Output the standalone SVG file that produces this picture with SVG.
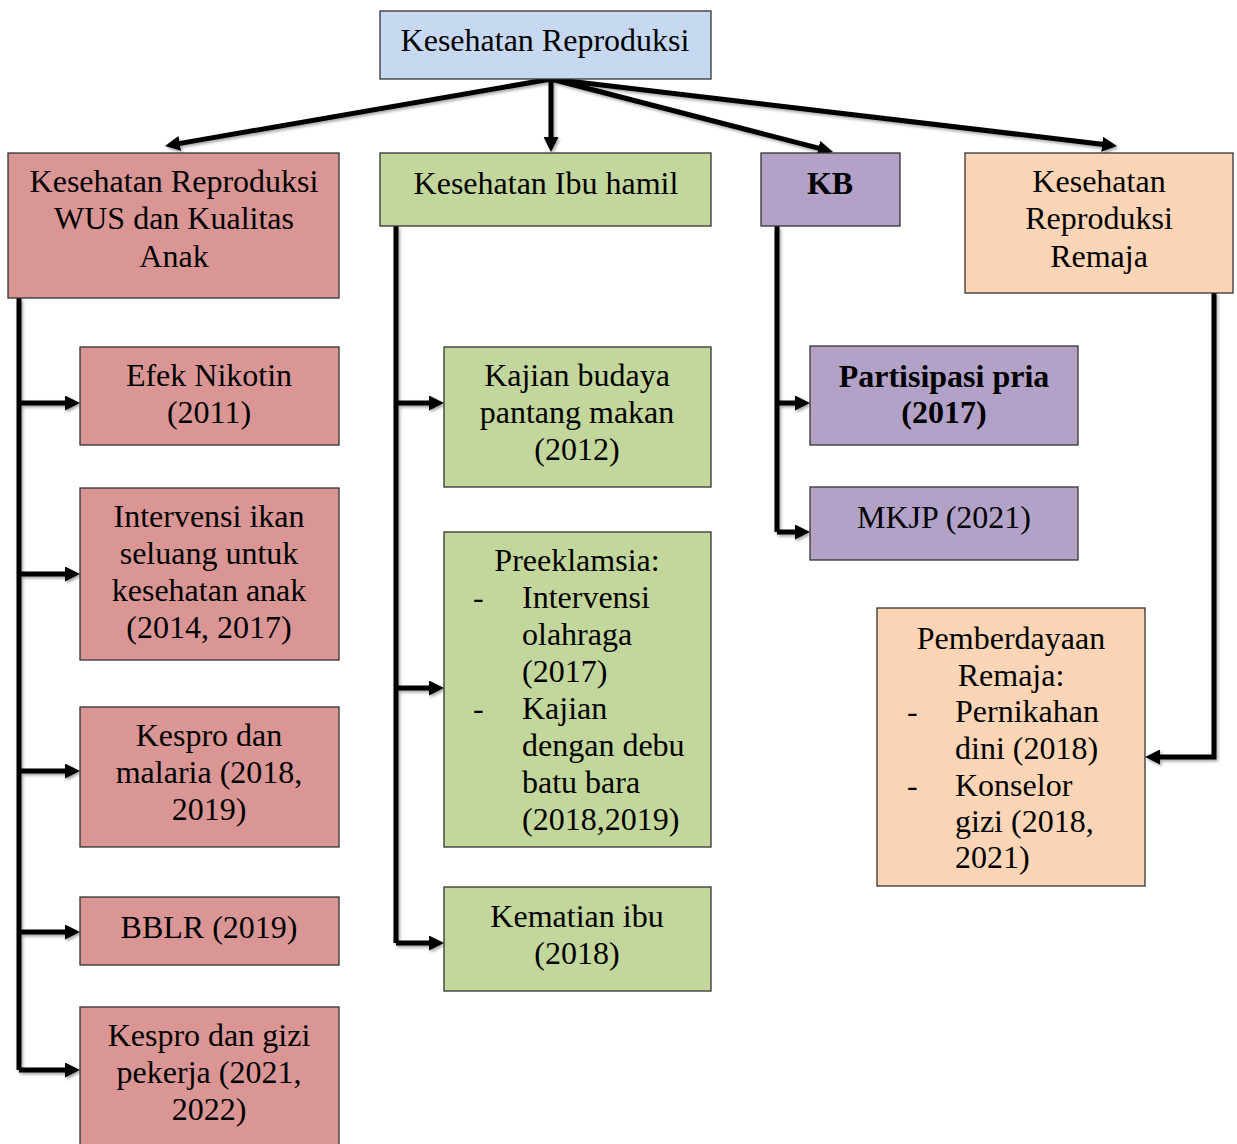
<svg xmlns="http://www.w3.org/2000/svg" width="1237" height="1144" viewBox="0 0 1237 1144">
<style>
.box{stroke:#333;stroke-width:1.3}
.blue{fill:#c6d9f1}.red{fill:#d99694}.green{fill:#c3d69b}.purple{fill:#b2a2c7}.peach{fill:#fbd5b5}
text{font-family:"Liberation Serif","Times New Roman",serif;font-size:32px;fill:#000}
.c{text-anchor:middle}
.b{font-weight:bold}
.conn{fill:none;stroke:#000;stroke-width:5;stroke-linejoin:miter}
</style>
<defs>
<marker id="arr" viewBox="0 0 15 15" refX="4" refY="7.5" markerWidth="15" markerHeight="15" markerUnits="userSpaceOnUse" orient="auto">
<path d="M0,0 L15,7.5 L0,15 z" fill="#000"/>
</marker>
<filter id="sh" x="-10%" y="-10%" width="120%" height="120%">
<feDropShadow dx="1.5" dy="2" stdDeviation="1.5" flood-color="#000" flood-opacity="0.35"/>
</filter>
</defs>

<g id="connectors" filter="url(#sh)">
<path class="conn" d="M551,79 L175.8,144.1" marker-end="url(#arr)"/>
<path class="conn" d="M551,79 L551,141" marker-end="url(#arr)"/>
<path class="conn" d="M551,79 L822.3,149.2" marker-end="url(#arr)"/>
<path class="conn" d="M551,79 L1106.1,144.7" marker-end="url(#arr)"/>

<path class="conn" d="M19,298 L19,1070"/>
<path class="conn" d="M19,403 L69,403" marker-end="url(#arr)"/>
<path class="conn" d="M19,574 L69,574" marker-end="url(#arr)"/>
<path class="conn" d="M19,771 L69,771" marker-end="url(#arr)"/>
<path class="conn" d="M19,932 L69,932" marker-end="url(#arr)"/>
<path class="conn" d="M19,1070 L69,1070" marker-end="url(#arr)"/>

<path class="conn" d="M396,226 L396,943"/>
<path class="conn" d="M396,403 L433,403" marker-end="url(#arr)"/>
<path class="conn" d="M396,688 L433,688" marker-end="url(#arr)"/>
<path class="conn" d="M396,943 L433,943" marker-end="url(#arr)"/>

<path class="conn" d="M777,226 L777,532"/>
<path class="conn" d="M777,403 L799,403" marker-end="url(#arr)"/>
<path class="conn" d="M777,532 L799,532" marker-end="url(#arr)"/>

<path class="conn" d="M1214,293 L1214,757 L1156,757" marker-end="url(#arr)"/>
</g>

<g id="root">
<rect class="box blue" x="380" y="11" width="331" height="68"/>
<text class="c" x="545" y="51">Kesehatan Reproduksi</text>
</g>

<g id="wus">
<rect class="box red" x="8" y="153" width="331" height="145"/>
<text class="c" x="174" y="192">Kesehatan Reproduksi</text>
<text class="c" x="174" y="229">WUS dan Kualitas</text>
<text class="c" x="174" y="267">Anak</text>
</g>

<g id="ibuhamil">
<rect class="box green" x="380" y="153" width="331" height="73"/>
<text class="c" x="546" y="194">Kesehatan Ibu hamil</text>
</g>

<g id="kb">
<rect class="box purple" x="761" y="153" width="139" height="73"/>
<text class="c b" x="830" y="194">KB</text>
</g>

<g id="remaja">
<rect class="box peach" x="965" y="153" width="268" height="140"/>
<text class="c" x="1099" y="192">Kesehatan</text>
<text class="c" x="1099" y="229">Reproduksi</text>
<text class="c" x="1099" y="267">Remaja</text>
</g>

<g id="nikotin">
<rect class="box red" x="80" y="347" width="259" height="98"/>
<text class="c" x="209" y="386">Efek Nikotin</text>
<text class="c" x="209" y="423">(2011)</text>
</g>

<g id="seluang">
<rect class="box red" x="80" y="488" width="259" height="172"/>
<text class="c" x="209" y="527">Intervensi ikan</text>
<text class="c" x="209" y="564">seluang untuk</text>
<text class="c" x="209" y="601">kesehatan anak</text>
<text class="c" x="209" y="638">(2014, 2017)</text>
</g>

<g id="malaria">
<rect class="box red" x="80" y="707" width="259" height="140"/>
<text class="c" x="209" y="746">Kespro dan</text>
<text class="c" x="209" y="783">malaria (2018,</text>
<text class="c" x="209" y="820">2019)</text>
</g>

<g id="bblr">
<rect class="box red" x="80" y="897" width="259" height="68"/>
<text class="c" x="209" y="938">BBLR (2019)</text>
</g>

<g id="gizipekerja">
<rect class="box red" x="80" y="1007" width="259" height="145"/>
<text class="c" x="209" y="1046">Kespro dan gizi</text>
<text class="c" x="209" y="1083">pekerja (2021,</text>
<text class="c" x="209" y="1120">2022)</text>
</g>

<g id="budaya">
<rect class="box green" x="444" y="347" width="267" height="140"/>
<text class="c" x="577" y="386">Kajian budaya</text>
<text class="c" x="577" y="423">pantang makan</text>
<text class="c" x="577" y="460">(2012)</text>
</g>

<g id="preeklamsia">
<rect class="box green" x="444" y="532" width="267" height="315"/>
<text class="c" x="577" y="571">Preeklamsia:</text>
<text x="473" y="608">-</text>
<text x="522" y="608">Intervensi</text>
<text x="522" y="645">olahraga</text>
<text x="522" y="682">(2017)</text>
<text x="473" y="719">-</text>
<text x="522" y="719">Kajian</text>
<text x="522" y="756">dengan debu</text>
<text x="522" y="793">batu bara</text>
<text x="522" y="830">(2018,2019)</text>
</g>

<g id="kematian">
<rect class="box green" x="444" y="887" width="267" height="104"/>
<text class="c" x="577" y="927">Kematian ibu</text>
<text class="c" x="577" y="964">(2018)</text>
</g>

<g id="pria">
<rect class="box purple" x="810" y="346" width="268" height="99"/>
<text class="c b" x="944" y="387">Partisipasi pria</text>
<text class="c b" x="944" y="423">(2017)</text>
</g>

<g id="mkjp">
<rect class="box purple" x="810" y="487" width="268" height="73"/>
<text class="c" x="944" y="528">MKJP (2021)</text>
</g>

<g id="pemberdayaan">
<rect class="box peach" x="877" y="608" width="268" height="278"/>
<text class="c" x="1011" y="649">Pemberdayaan</text>
<text class="c" x="1011" y="686">Remaja:</text>
<text x="907" y="722">-</text>
<text x="955" y="722">Pernikahan</text>
<text x="955" y="759">dini (2018)</text>
<text x="907" y="796">-</text>
<text x="955" y="796">Konselor</text>
<text x="955" y="832">gizi (2018,</text>
<text x="955" y="868">2021)</text>
</g>
</svg>
